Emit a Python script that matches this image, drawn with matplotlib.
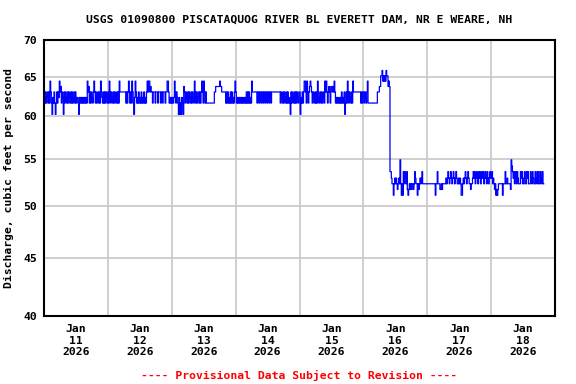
import numpy as np
import pandas as pd
import matplotlib
matplotlib.use("Agg")
import matplotlib.pyplot as plt
import matplotlib.dates as mdates
from matplotlib.ticker import FixedLocator, NullLocator, FixedFormatter

TITLE = "USGS 01090800 PISCATAQUOG RIVER BL EVERETT DAM, NR E WEARE, NH"
YLABEL = "Discharge, cubic feet per second"
FOOTER = "---- Provisional Data Subject to Revision ----"

# codigos de nivel (cfs): 0-8 antes de la compuerta, a-g despues
LEVELS = {"0": 60.2, "1": 60.9, "2": 61.6, "3": 62.3, "4": 63.0, "5": 63.7,
          "6": 64.4, "7": 65.1, "8": 65.8,
          "a": 51.1, "b": 51.7, "c": 52.3, "d": 52.9, "e": 53.6, "f": 54.2, "g": 54.9}

# un caracter por dato de 15 min, un string por dia
JAN11 = ("4242342426" "4203242024" "2436452430" "4243242432" "4242342423"
         "3203232323" "2323264524" "2432464242" "3424264324" "242432")
JAN12 = ("4264243242" "4324242644" "4444444242" "4642426420" "3642324232"
         "4232423246" "4664544244" "4244424442" "4424442446" "642323")
JAN13 = ("2323642432" "0302032054" "2432424324" "2432642423" "4242464264"
         "2422222222" "2222445555" "5565544444" "4242423242" "423246")
JAN14 = ("4232323232" "3232324242" "4232644444" "4424424424" "4244244244"
         "2442444444" "4444444243" "2424324242" "3204243242" "424324")
JAN15 = ("4032424664" "2642456542" "4324242642" "3424234264" "6424542554"
         "5464232323" "2324232402" "4264243242" "6444444444" "442424")
JAN16 = ("4243246222" "2222222222" "2444557786" "7676877565" "eedccacdcd"
         "cbcdcgcaca" "ecedcebabc" "bcbccbcedc" "cacbcdcdec" "cccccc")
JAN17 = ("cccccccccc" "ccaccecccb" "bcbcccccdc" "dedcdedcde" "dcdedccdcd"
         "caacdcdedc" "dedccbccde" "decdedcede" "cdedecdedc" "edcded")
JAN18 = ("decdcbcaba" "bccccccacc" "ceccdccccb" "gfedecdece" "dcccedeccd"
         "eccedeccce" "dcedccecde" "ceccedcecc")

DAYS = [11, 12, 13, 14, 15, 16, 17, 18]
Y_TICKS = [40, 45, 50, 55, 60, 65, 70]

FONT = dict(family="DejaVu Sans Mono", weight="bold", size=8.2)


def main():
    codes = JAN11 + JAN12 + JAN13 + JAN14 + JAN15 + JAN16 + JAN17 + JAN18
    q = np.array([LEVELS[c] for c in codes])
    t = pd.date_range("2026-01-11 00:00", periods=len(q), freq="15min")

    fig = plt.figure(figsize=(5.76, 3.84), dpi=100)
    ax = fig.add_axes([44 / 576, 1 - 316 / 384, (555 - 44) / 576, (316 - 40) / 384])

    ax.plot(t, q, drawstyle="steps-post", color="#0000ff", lw=0.9, zorder=3)

    ax.set_yscale("log")
    ax.set_ylim(40, 70)
    ax.yaxis.set_major_locator(FixedLocator(Y_TICKS))
    ax.yaxis.set_major_formatter(FixedFormatter([str(v) for v in Y_TICKS]))
    ax.yaxis.set_minor_locator(NullLocator())

    x0 = pd.Timestamp("2026-01-11")
    ax.set_xlim(x0, pd.Timestamp("2026-01-19"))
    mid = [mdates.date2num(x0 + pd.Timedelta(days=i)) for i in range(1, 8)]
    noon = [mdates.date2num(x0 + pd.Timedelta(days=i, hours=12)) for i in range(8)]
    ax.xaxis.set_major_locator(FixedLocator(mid))
    ax.xaxis.set_major_formatter(FixedFormatter([""] * len(mid)))
    ax.xaxis.set_minor_locator(FixedLocator(noon))
    ax.xaxis.set_minor_formatter(FixedFormatter([f"Jan\n{d}\n2026" for d in DAYS]))

    ax.grid(True, which="major", color="#cccccc", lw=1.3, zorder=1)
    ax.tick_params(which="both", length=0)
    ax.tick_params(axis="x", which="minor", pad=6)
    ax.tick_params(axis="y", pad=5)
    for lab in ax.get_xticklabels(minor=True):
        lab.set(**FONT, linespacing=1.15)
    for lab in ax.get_yticklabels():
        lab.set(**FONT)
    for sp in ax.spines.values():
        sp.set_linewidth(1.5)
        sp.set_color("black")
        sp.set_zorder(4)

    ax.set_ylabel(YLABEL, labelpad=7, **FONT)
    fig.text(299.5 / 576, 1 - 20 / 384, TITLE, ha="center", va="center", **FONT)
    fig.text(299 / 576, 1 - 375 / 384, FOOTER, ha="center", va="center",
             color="#ff0000", **FONT)

    fig.savefig("out.png", dpi=100)
    plt.close(fig)


if __name__ == "__main__":
    main()
